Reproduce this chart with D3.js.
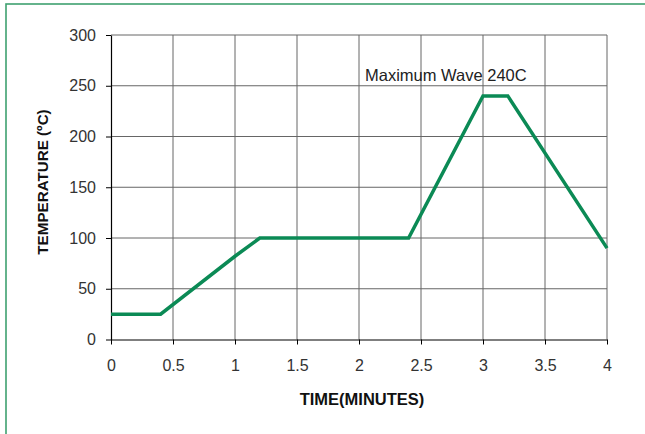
<!DOCTYPE html>
<html><head><meta charset="utf-8">
<script src="https://cdn.jsdelivr.net/npm/d3@7"></script>
<style>body{margin:0;background:#fff;}svg{display:block;font-family:"Liberation Sans",Arial,sans-serif;}</style>
</head><body><svg id="c" width="645" height="434"></svg>
<script>
const timeMin = [0, 0.4, 1.0, 1.2, 2.4, 3.0, 3.2, 4.0];
const tempC   = [25, 25, 82, 100, 100, 240, 240, 90];
const xTicks = [0, 0.5, 1, 1.5, 2, 2.5, 3, 3.5, 4];
const yTicks = [0, 50, 100, 150, 200, 250, 300];
const annotation = {t: 2.0, v: 256, text: "Maximum Wave 240C"};

const svg = d3.select("#c");
svg.append("rect").attr("x",6).attr("y",4).attr("width",650).attr("height",440)
  .attr("fill","none").attr("stroke","#3fa170").attr("stroke-width",1.6);

const L=111,R=607,T=35,B=339.5;
const x=d3.scaleLinear().domain([0,4]).range([L,R]);
const y=d3.scaleLinear().domain([0,300]).range([B,T]);

const g=svg.append("g");
g.selectAll(".vg").data(xTicks.slice(1)).join("line")
 .attr("x1",d=>x(d)).attr("x2",d=>x(d)).attr("y1",T).attr("y2",B)
 .attr("stroke","#666").attr("stroke-width",1);
g.selectAll(".hg").data(yTicks.slice(1)).join("line")
 .attr("x1",L).attr("x2",R).attr("y1",d=>y(d)).attr("y2",d=>y(d))
 .attr("stroke","#666").attr("stroke-width",1);

const xa=svg.append("g").attr("transform",`translate(0,${B})`)
 .call(d3.axisBottom(x).tickValues(xTicks).tickFormat(d3.format("")).tickSize(5).tickPadding(15).tickSizeOuter(0));
const ya=svg.append("g").attr("transform",`translate(${L},0)`)
 .call(d3.axisLeft(y).tickValues(yTicks).tickSize(5).tickPadding(10).tickSizeOuter(0));
[xa,ya].forEach(a=>{
  a.attr("font-size",null);
  a.select(".domain").attr("stroke","#000").attr("stroke-width",1.2);
  a.selectAll(".tick line").attr("stroke","#000");
  a.selectAll("text").attr("fill","#333").attr("font-size","16px").style("font-family","'Liberation Sans',Arial,sans-serif");
});

const line=d3.line().x((d,i)=>x(timeMin[i])).y((d,i)=>y(tempC[i]));
svg.append("path").datum(tempC).attr("d",line).attr("fill","none")
 .attr("stroke","#0b8a55").attr("stroke-width",3.5).attr("stroke-linejoin","miter");

svg.append("text").attr("x",x(annotation.t)+6).attr("y",y(annotation.v)+1)
 .attr("font-size","16.5px").attr("fill","#222").text(annotation.text);

svg.append("text").attr("x",362).attr("y",405).attr("text-anchor","middle")
 .attr("font-weight","bold").attr("font-size","16.5px").attr("fill","#111").text("TIME(MINUTES)");
svg.append("text").attr("transform","translate(48,182) rotate(-90)").attr("text-anchor","middle")
 .attr("font-weight","bold").attr("font-size","15.2px").attr("fill","#111").text("TEMPERATURE (ºC)");
</script></body></html>
